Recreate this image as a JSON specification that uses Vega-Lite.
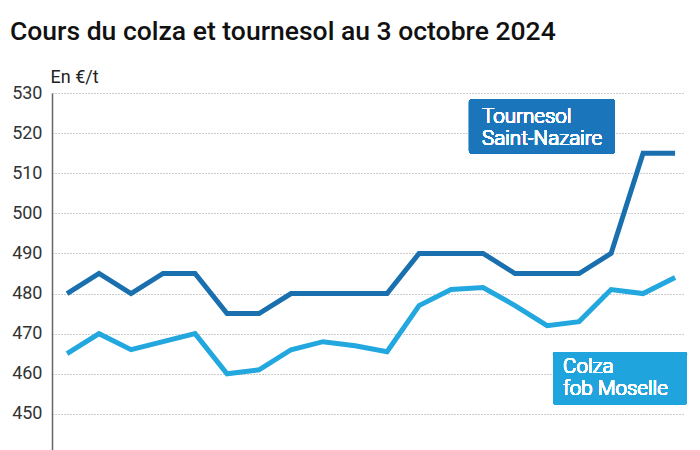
{
  "$schema": "https://vega.github.io/schema/vega-lite/v6.json",
  "width": 633,
  "height": 357,
  "autosize": {"type": "none"},
  "padding": {"left": 52, "top": 93, "right": 15, "bottom": 0},
  "background": "white",
  "config": {
    "font": "Roboto",
    "view": {"stroke": null}
  },
  "title": {
    "text": "Cours du colza et tournesol au 3 octobre 2024",
    "anchor": "start",
    "frame": "group",
    "dx": -42,
    "offset": 23,
    "fontSize": 26.5,
    "fontWeight": 500,
    "color": "#111111",
    "font": "Roboto"
  },
  "data": {
    "values": [
      {"i": 0, "serie": "Tournesol Saint-Nazaire", "prix": 480},
      {"i": 1, "serie": "Tournesol Saint-Nazaire", "prix": 485},
      {"i": 2, "serie": "Tournesol Saint-Nazaire", "prix": 480},
      {"i": 3, "serie": "Tournesol Saint-Nazaire", "prix": 485},
      {"i": 4, "serie": "Tournesol Saint-Nazaire", "prix": 485},
      {"i": 5, "serie": "Tournesol Saint-Nazaire", "prix": 475},
      {"i": 6, "serie": "Tournesol Saint-Nazaire", "prix": 475},
      {"i": 7, "serie": "Tournesol Saint-Nazaire", "prix": 480},
      {"i": 8, "serie": "Tournesol Saint-Nazaire", "prix": 480},
      {"i": 9, "serie": "Tournesol Saint-Nazaire", "prix": 480},
      {"i": 10, "serie": "Tournesol Saint-Nazaire", "prix": 480},
      {"i": 11, "serie": "Tournesol Saint-Nazaire", "prix": 490},
      {"i": 12, "serie": "Tournesol Saint-Nazaire", "prix": 490},
      {"i": 13, "serie": "Tournesol Saint-Nazaire", "prix": 490},
      {"i": 14, "serie": "Tournesol Saint-Nazaire", "prix": 485},
      {"i": 15, "serie": "Tournesol Saint-Nazaire", "prix": 485},
      {"i": 16, "serie": "Tournesol Saint-Nazaire", "prix": 485},
      {"i": 17, "serie": "Tournesol Saint-Nazaire", "prix": 490},
      {"i": 18, "serie": "Tournesol Saint-Nazaire", "prix": 515},
      {"i": 19, "serie": "Tournesol Saint-Nazaire", "prix": 515},
      {"i": 0, "serie": "Colza fob Moselle", "prix": 465},
      {"i": 1, "serie": "Colza fob Moselle", "prix": 470},
      {"i": 2, "serie": "Colza fob Moselle", "prix": 466},
      {"i": 3, "serie": "Colza fob Moselle", "prix": 468},
      {"i": 4, "serie": "Colza fob Moselle", "prix": 470},
      {"i": 5, "serie": "Colza fob Moselle", "prix": 460},
      {"i": 6, "serie": "Colza fob Moselle", "prix": 461},
      {"i": 7, "serie": "Colza fob Moselle", "prix": 466},
      {"i": 8, "serie": "Colza fob Moselle", "prix": 468},
      {"i": 9, "serie": "Colza fob Moselle", "prix": 467},
      {"i": 10, "serie": "Colza fob Moselle", "prix": 465.5},
      {"i": 11, "serie": "Colza fob Moselle", "prix": 477},
      {"i": 12, "serie": "Colza fob Moselle", "prix": 481},
      {"i": 13, "serie": "Colza fob Moselle", "prix": 481.5},
      {"i": 14, "serie": "Colza fob Moselle", "prix": 477},
      {"i": 15, "serie": "Colza fob Moselle", "prix": 472},
      {"i": 16, "serie": "Colza fob Moselle", "prix": 473},
      {"i": 17, "serie": "Colza fob Moselle", "prix": 481},
      {"i": 18, "serie": "Colza fob Moselle", "prix": 480},
      {"i": 19, "serie": "Colza fob Moselle", "prix": 484}
    ]
  },
  "layer": [
    {
      "mark": {"type": "line", "strokeWidth": 5, "strokeJoin": "miter", "strokeCap": "butt"},
      "encoding": {
        "x": {
          "field": "i",
          "type": "quantitative",
          "scale": {"domain": [-0.47, 19.31], "nice": false, "zero": false},
          "axis": null
        },
        "y": {
          "field": "prix",
          "type": "quantitative",
          "scale": {"domain": [441, 530], "nice": false, "zero": false},
          "axis": {
            "values": [450, 460, 470, 480, 490, 500, 510, 520, 530],
            "title": "En €/t",
            "titleAngle": 0,
            "titleAlign": "left",
            "titleBaseline": "alphabetic",
            "titleX": -2,
            "titleY": -11,
            "titleFont": "Roboto",
            "titleFontSize": 18,
            "titleFontWeight": "normal",
            "titleColor": "#222222",
            "labelFont": "Roboto",
            "labelFontSize": 18,
            "labelColor": "#333333",
            "labelPadding": 10,
            "ticks": false,
            "domain": true,
            "domainColor": "#666666",
            "domainWidth": 1.5,
            "grid": true,
            "gridColor": "#9a9a9a",
            "gridDash": [1, 2],
            "gridWidth": 1
          }
        },
        "color": {
          "field": "serie",
          "type": "nominal",
          "scale": {"domain": ["Tournesol Saint-Nazaire", "Colza fob Moselle"], "range": ["#1a6fae", "#22a7df"]},
          "legend": null
        }
      }
    },
    {
      "mark": {"type": "rect", "color": "#1a75bb", "cornerRadius": 2},
      "encoding": {
        "x": {"datum": 12.56, "type": "quantitative"},
        "x2": {"datum": 17.12},
        "y": {"datum": 528.3, "type": "quantitative"},
        "y2": {"datum": 515.0}
      }
    },
    {
      "mark": {"type": "rect", "color": "#1fa4de", "cornerRadius": 2},
      "encoding": {
        "x": {"datum": 15.19, "type": "quantitative"},
        "x2": {"datum": 19.37},
        "y": {"datum": 465.4, "type": "quantitative"},
        "y2": {"datum": 452.4}
      }
    },
    {
      "mark": {"type": "text", "color": "white", "font": "Roboto", "fontSize": 20.5, "fontWeight": 300, "align": "left", "baseline": "alphabetic", "lineHeight": 22},
      "encoding": {
        "x": {"datum": 12.97, "type": "quantitative"},
        "y": {"datum": 522.5, "type": "quantitative"},
        "text": {"value": ["Tournesol", "Saint-Nazaire"]}
      }
    },
    {
      "mark": {"type": "text", "color": "white", "font": "Roboto", "fontSize": 20.5, "fontWeight": 300, "align": "left", "baseline": "alphabetic", "lineHeight": 22},
      "encoding": {
        "x": {"datum": 15.5, "type": "quantitative"},
        "y": {"datum": 460.2, "type": "quantitative"},
        "text": {"value": ["Colza", "fob Moselle"]}
      }
    }
  ]
}
